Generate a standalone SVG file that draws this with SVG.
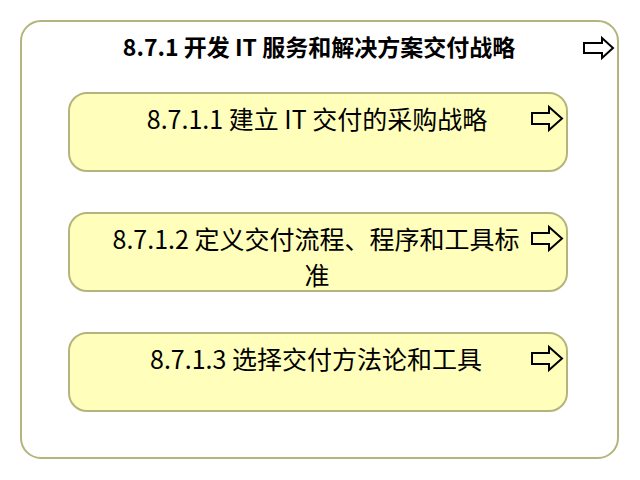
<svg xmlns="http://www.w3.org/2000/svg" width="640" height="480" viewBox="0 0 640 480">
<style>
.outer{fill:#ffffff;stroke:#b4b47c;stroke-width:2}
.box{fill:#ffffbb;stroke:#b4b47c;stroke-width:2}
.arrow{fill:#ffffff;stroke:#000000;stroke-width:2;stroke-linejoin:miter}
.arrowy{fill:#ffffbb;stroke:#000000;stroke-width:2;stroke-linejoin:miter}
.t{font-family:"Noto Sans CJK SC","Noto Sans",sans-serif;fill:#000000;text-anchor:middle}
.title{font-size:23px;font-weight:bold}
.lbl{font-size:25px}
</style>
<rect width="640" height="480" fill="#ffffff"/>
<g id="group-871">
<rect class="outer" x="21" y="21" width="597" height="437" rx="20" ry="20"/>
<text class="t title" x="319" y="56">8.7.1 开发 IT 服务和解决方案交付战略</text>
<path class="arrow" d="M584,43 H602 V38 L613,48 L602,58 V53 H584 Z"/>
</g>
<g id="node-8711">
<rect class="box" x="69" y="93" width="498" height="78" rx="18" ry="18"/>
<text class="t lbl" x="317" y="129">8.7.1.1 建立 IT 交付的采购战略</text>
<path class="arrowy" d="M532,113 H549 V107 L562,118.5 L549,130 V124 H532 Z"/>
</g>
<g id="node-8712">
<rect class="box" x="69" y="213" width="498" height="78" rx="18" ry="18"/>
<text class="t lbl" x="316" y="249">8.7.1.2 定义交付流程、程序和工具标</text>
<text class="t lbl" x="317" y="285">准</text>
<path class="arrowy" d="M532,233 H549 V227 L562,238.5 L549,250 V244 H532 Z"/>
</g>
<g id="node-8713">
<rect class="box" x="69" y="333" width="498" height="78" rx="18" ry="18"/>
<text class="t lbl" x="316" y="369">8.7.1.3 选择交付方法论和工具</text>
<path class="arrowy" d="M532,353 H549 V347 L562,358.5 L549,370 V364 H532 Z"/>
</g>
<g id="connectors"></g>
</svg>
